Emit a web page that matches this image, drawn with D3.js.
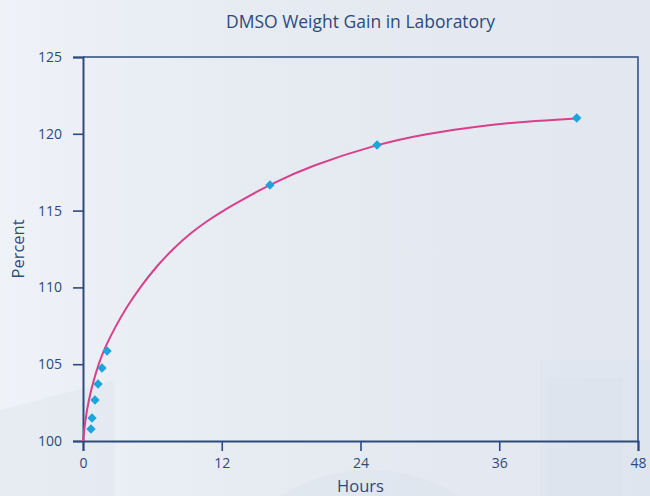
<!DOCTYPE html>
<html>
<head>
<meta charset="utf-8">
<script src="https://cdn.jsdelivr.net/npm/d3@7/dist/d3.min.js"></script>
<style>
html,body{margin:0;padding:0;background:#e5eaf2;}
svg{display:block;}
</style>
</head>
<body>
<svg id="chart" width="650" height="496"></svg>
<script>
// Measured data (hours, percent)
const hours   = [0.69, 0.78, 1.04, 1.30, 1.64, 2.08, 16.17, 25.43, 42.7];
const percent = [100.78, 101.5, 102.67, 103.71, 104.75, 105.86, 116.67, 119.27, 121.03];

// Trend curve
const curveHours   = [0, 0.20, 0.49, 0.93, 1.36, 1.93, 2.79, 3.78, 4.93, 6.37, 7.81, 9.25, 10.70, 12.13, 13.58, 15.02, 16.17, 19.63, 25.40, 29.73, 34.05, 38.37, 42.70];
const curvePercent = [100, 101.37, 102.67, 103.97, 105.06, 106.14, 107.43, 108.72, 110.01, 111.38, 112.53, 113.50, 114.31, 115.00, 115.62, 116.22, 116.68, 117.90, 119.32, 120.01, 120.49, 120.81, 121.00];

const xTicks = [0, 12, 24, 36, 48];
const yTicks = [100, 105, 110, 115, 120, 125];

const W = 650, H = 496;
const margin = {left: 83, right: 12, top: 57, bottom: 55};
const svg = d3.select("#chart");

// Background
const defs = svg.append("defs");
const g1 = defs.append("linearGradient").attr("id","bg").attr("x1","0").attr("x2","1").attr("y1","0").attr("y2","0");
g1.append("stop").attr("offset","0").attr("stop-color","#eff2f7");
g1.append("stop").attr("offset","0.35").attr("stop-color","#e7ecf3");
g1.append("stop").attr("offset","1").attr("stop-color","#e2e7f0");
svg.append("rect").attr("width",W).attr("height",H).attr("fill","url(#bg)");
svg.append("path").attr("d","M0,410 L0,496 L650,496 L650,360 L540,360 L540,496 L115,496 L115,380 Z").attr("fill","#dde3ed").attr("opacity",0.4);
svg.append("circle").attr("cx",370).attr("cy",640).attr("r",170).attr("fill","#d9e0eb").attr("opacity",0.4);
svg.append("rect").attr("x",548).attr("y",378).attr("width",75).attr("height",118).attr("fill","#dbe1eb").attr("opacity",0.5);

const x = d3.scaleLinear().domain([0,48]).range([margin.left, W - margin.right]);
const y = d3.scaleLinear().domain([100,125]).range([441, margin.top]);

const axisColor = "#2c4a7e";
const textColor = "#2c4a7e";
const font = "'Open Sans', sans-serif";

// Frame (top & right)
svg.append("path")
  .attr("d", `M${x(0)},${y(125)} L${x(48)},${y(125)} L${x(48)},${y(100)}`)
  .attr("fill","none").attr("stroke",axisColor).attr("stroke-width",1.5);

// Axes
const xAxis = svg.append("g").attr("transform",`translate(0,${y(100)})`)
  .call(d3.axisBottom(x).tickValues(xTicks).tickSize(10).tickPadding(7));
const yAxis = svg.append("g").attr("transform",`translate(${x(0)},0)`)
  .call(d3.axisLeft(y).tickValues(yTicks).tickSize(10).tickPadding(11));
[xAxis, yAxis].forEach(a => {
  a.select(".domain").attr("stroke",axisColor).attr("stroke-width",2);
  a.selectAll(".tick line").attr("stroke",axisColor).attr("stroke-width",1.6);
  a.selectAll(".tick text").attr("fill",textColor).attr("font-family",font).attr("font-size",14);
});

// Curve
const line = d3.line().x(d => x(d[0])).y(d => y(d[1])).curve(d3.curveBasis);
svg.append("path")
  .datum(curveHours.map((h,i) => [h, curvePercent[i]]))
  .attr("d", line).attr("fill","none").attr("stroke","#d9408a").attr("stroke-width",2);

// Points
const sym = d3.symbol().type(d3.symbolSquare).size(44);
svg.append("g").selectAll("path").data(hours.map((h,i)=>[h,percent[i]])).join("path")
  .attr("d", sym)
  .attr("transform", d => `translate(${x(d[0])},${y(d[1])}) rotate(45)`)
  .attr("fill","#1ca4dc");

// Titles
svg.append("text").attr("x",(x(0)+x(48))/2).attr("y",28).attr("text-anchor","middle")
  .attr("font-family",font).attr("font-size",17.5).attr("fill",textColor).text("DMSO Weight Gain in Laboratory");
svg.append("text").attr("x",(x(0)+x(48))/2).attr("y",492).attr("text-anchor","middle")
  .attr("font-family",font).attr("font-size",16.5).attr("fill",textColor).text("Hours");
svg.append("text").attr("transform",`translate(24,${(y(100)+y(125))/2}) rotate(-90)`).attr("text-anchor","middle")
  .attr("font-family",font).attr("font-size",16.5).attr("fill",textColor).text("Percent");
</script>
</body>
</html>
